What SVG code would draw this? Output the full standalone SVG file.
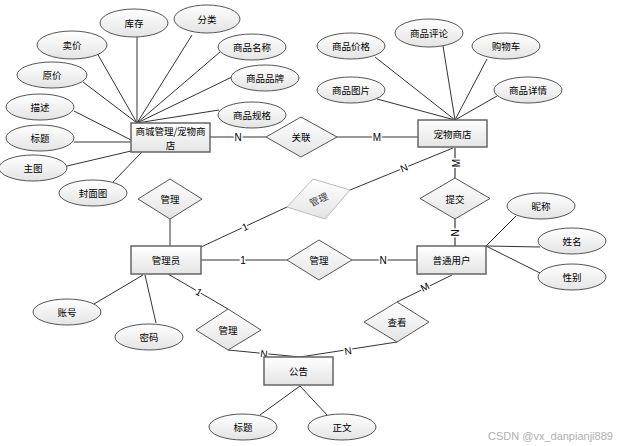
<svg xmlns="http://www.w3.org/2000/svg" width="618" height="446" viewBox="0 0 618 446">
<defs>
<linearGradient id="g" x1="0" y1="0" x2="0" y2="1">
<stop offset="0" stop-color="#ffffff"/>
<stop offset="1" stop-color="#e4e4e4"/>
</linearGradient>
<style>
text{font-family:"Noto Sans CJK SC","Liberation Sans",sans-serif;font-size:9.5px;fill:#000;text-anchor:middle;dominant-baseline:central}
.e{fill:url(#g);stroke:#555;stroke-width:1}
.r{fill:url(#g);stroke:#666;stroke-width:1.5}
.d{fill:url(#g);stroke:#555;stroke-width:1}
.dg{fill:url(#g);stroke:#bbb;stroke-width:1}
.l{stroke:#333;stroke-width:1;fill:none}
.lg{stroke:#888;stroke-width:2;fill:none}
.c{font-family:"Liberation Sans",sans-serif;font-size:10px;stroke:#fff;stroke-width:3;paint-order:stroke}
.wm{font-family:"Liberation Sans",sans-serif;font-size:11px;fill:#b0b0b0;text-anchor:start}
</style>
</defs>
<rect width="618" height="446" fill="#fff"/>
<g id="connectors">
<line class="l" x1="137" y1="37" x2="137" y2="123"/>
<line class="l" x1="97" y1="53" x2="137" y2="123"/>
<line class="l" x1="83" y1="82" x2="137" y2="123"/>
<line class="l" x1="74" y1="111" x2="131" y2="140"/>
<line class="l" x1="74" y1="142" x2="131" y2="142"/>
<line class="l" x1="67" y1="166" x2="131" y2="151"/>
<line class="l" x1="113" y1="182" x2="142" y2="152"/>
<line class="l" x1="192" y1="35" x2="137" y2="123"/>
<line class="l" x1="220" y1="52" x2="137" y2="123"/>
<line class="l" x1="232" y1="77" x2="137" y2="123"/>
<line class="l" x1="219" y1="110" x2="137" y2="123"/>
<line class="l" x1="210" y1="137" x2="266" y2="137"/>
<line class="l" x1="337" y1="137" x2="418" y2="137"/>
<line class="l" x1="375" y1="57" x2="455" y2="120"/>
<line class="l" x1="443" y1="46" x2="455" y2="120"/>
<line class="l" x1="487" y1="59" x2="455" y2="120"/>
<line class="l" x1="377" y1="99" x2="455" y2="120"/>
<line class="l" x1="497" y1="96" x2="455" y2="120"/>
<line class="lg" x1="455" y1="148" x2="455" y2="178"/>
<line class="lg" x1="455" y1="219" x2="455" y2="246"/>
<line class="l" x1="486" y1="246" x2="516" y2="216"/>
<line class="l" x1="486" y1="246" x2="540" y2="247"/>
<line class="l" x1="486" y1="246" x2="540" y2="273"/>
<line class="l" x1="170" y1="219" x2="170" y2="246"/>
<line class="l" x1="201" y1="247" x2="287" y2="207"/>
<line class="l" x1="350" y1="190" x2="453" y2="148"/>
<line class="l" x1="201" y1="260" x2="287" y2="260"/>
<line class="l" x1="352" y1="260" x2="417" y2="260"/>
<line class="l" x1="143" y1="275" x2="94" y2="304"/>
<line class="l" x1="145" y1="275" x2="156" y2="323"/>
<line class="l" x1="168" y1="274" x2="228" y2="309"/>
<line class="l" x1="228" y1="350" x2="300" y2="357"/>
<line class="l" x1="452" y1="275" x2="397" y2="302"/>
<line class="l" x1="397" y1="342" x2="300" y2="357"/>
<line class="l" x1="300" y1="386" x2="260" y2="415"/>
<line class="l" x1="300" y1="386" x2="327" y2="415"/>
<text class="c" x="238" y="137">N</text>
<text class="c" x="377" y="137">M</text>
<text class="c" transform="translate(456,163) rotate(-90)">M</text>
<text class="c" transform="translate(455,233) rotate(-90)">N</text>
<text class="c" transform="translate(404,168) rotate(-22)">N</text>
<text class="c" transform="translate(245,227) rotate(-25)">1</text>
<text class="c" x="243" y="260">1</text>
<text class="c" x="383" y="260">N</text>
<text class="c" transform="translate(199,292) rotate(30)">1</text>
<text class="c" transform="translate(264,354) rotate(6)">N</text>
<text class="c" transform="translate(348,351) rotate(-9)">N</text>
<text class="c" transform="translate(425,287) rotate(-27)">M</text>
</g>
<g id="attr-kucun"><ellipse class="e" cx="134" cy="23" rx="34" ry="14"/><text x="134" y="23">库存</text></g>
<g id="attr-fenlei"><ellipse class="e" cx="207" cy="19" rx="33" ry="14"/><text x="207" y="19">分类</text></g>
<g id="attr-maijia"><ellipse class="e" cx="72" cy="45" rx="35" ry="14"/><text x="72" y="45">卖价</text></g>
<g id="attr-mingcheng"><ellipse class="e" cx="252" cy="47" rx="34" ry="13"/><text x="252" y="47">商品名称</text></g>
<g id="attr-yuanjia"><ellipse class="e" cx="52" cy="75" rx="35" ry="13"/><text x="52" y="75">原价</text></g>
<g id="attr-pinpai"><ellipse class="e" cx="265" cy="78" rx="34" ry="13"/><text x="265" y="78">商品品牌</text></g>
<g id="attr-miaoshu"><ellipse class="e" cx="40" cy="107" rx="34" ry="13"/><text x="40" y="107">描述</text></g>
<g id="attr-guige"><ellipse class="e" cx="252" cy="115" rx="34" ry="13"/><text x="252" y="115">商品规格</text></g>
<g id="attr-biaoti"><ellipse class="e" cx="40" cy="138" rx="34" ry="13"/><text x="40" y="138">标题</text></g>
<g id="attr-zhutu"><ellipse class="e" cx="33" cy="168" rx="34" ry="13"/><text x="33" y="168">主图</text></g>
<g id="attr-fengmian"><ellipse class="e" cx="93" cy="193" rx="34" ry="13"/><text x="93" y="193">封面图</text></g>
<g id="entity-shangcheng"><rect class="r" x="131" y="123" width="79" height="29"/><text x="170.5" y="130.5">商城管理/宠物商</text><text x="170.5" y="144.5">店</text></g>
<g id="rel-guanlian"><polygon class="d" points="301,117 337,137 301,157 266,137"/><text x="301" y="137">关联</text></g>
<g id="attr-jiage"><ellipse class="e" cx="351" cy="46" rx="34" ry="13"/><text x="351" y="46">商品价格</text></g>
<g id="attr-pinglun"><ellipse class="e" cx="429" cy="33" rx="34" ry="14"/><text x="429" y="33">商品评论</text></g>
<g id="attr-gouwuche"><ellipse class="e" cx="506" cy="46" rx="34" ry="13"/><text x="506" y="46">购物车</text></g>
<g id="attr-tupian"><ellipse class="e" cx="351" cy="90" rx="34" ry="13"/><text x="351" y="90">商品图片</text></g>
<g id="attr-xiangqing"><ellipse class="e" cx="528" cy="90" rx="34" ry="13"/><text x="528" y="90">商品详情</text></g>
<g id="entity-chongwu"><rect class="r" x="418" y="120" width="69" height="27"/><text x="452.5" y="133.5">宠物商店</text></g>
<g id="rel-tijiao"><polygon class="d" points="455,178 490,198.5 455,219 420,198.5"/><text x="455" y="198.5">提交</text></g>
<g id="rel-guanli-top"><polygon class="d" points="170,179 202,199 170,219 138,199"/><text x="170" y="199">管理</text></g>
<g id="rel-guanli-gray"><polygon class="dg" points="313,179 350,190 325,219 287,207"/><text transform="translate(318.5,199) rotate(-25)" style="fill:#444">管理</text></g>
<g id="entity-guanliyuan"><rect class="r" x="131" y="246" width="70" height="28"/><text x="166" y="260">管理员</text></g>
<g id="rel-guanli-mid"><polygon class="d" points="319,240 352,260 319,280 287,260"/><text x="319" y="260">管理</text></g>
<g id="entity-putong"><rect class="r" x="417" y="246" width="69" height="28"/><text x="451.5" y="260">普通用户</text></g>
<g id="attr-nicheng"><ellipse class="e" cx="541" cy="206" rx="34" ry="13"/><text x="541" y="206">昵称</text></g>
<g id="attr-xingming"><ellipse class="e" cx="572" cy="241" rx="34" ry="13"/><text x="572" y="241">姓名</text></g>
<g id="attr-xingbie"><ellipse class="e" cx="572" cy="277" rx="34" ry="13"/><text x="572" y="277">性别</text></g>
<g id="attr-zhanghao"><ellipse class="e" cx="67" cy="312" rx="34" ry="13"/><text x="67" y="312">账号</text></g>
<g id="attr-mima"><ellipse class="e" cx="149" cy="337" rx="34" ry="13"/><text x="149" y="337">密码</text></g>
<g id="rel-guanli-bottom"><polygon class="d" points="228,309 261,330 228,350 196,330"/><text x="228" y="330">管理</text></g>
<g id="rel-chakan"><polygon class="d" points="397,302 429,322 397,342 364,322"/><text x="397" y="322">查看</text></g>
<g id="entity-gonggao"><rect class="r" x="264" y="357" width="69" height="28"/><text x="298.5" y="371">公告</text></g>
<g id="attr-biaoti2"><ellipse class="e" cx="243" cy="427" rx="34" ry="13"/><text x="243" y="427">标题</text></g>
<g id="attr-zhengwen"><ellipse class="e" cx="342" cy="427" rx="34" ry="13"/><text x="342" y="427">正文</text></g>
<text class="wm" x="488" y="436">CSDN @vx_danpianji889</text>
</svg>
